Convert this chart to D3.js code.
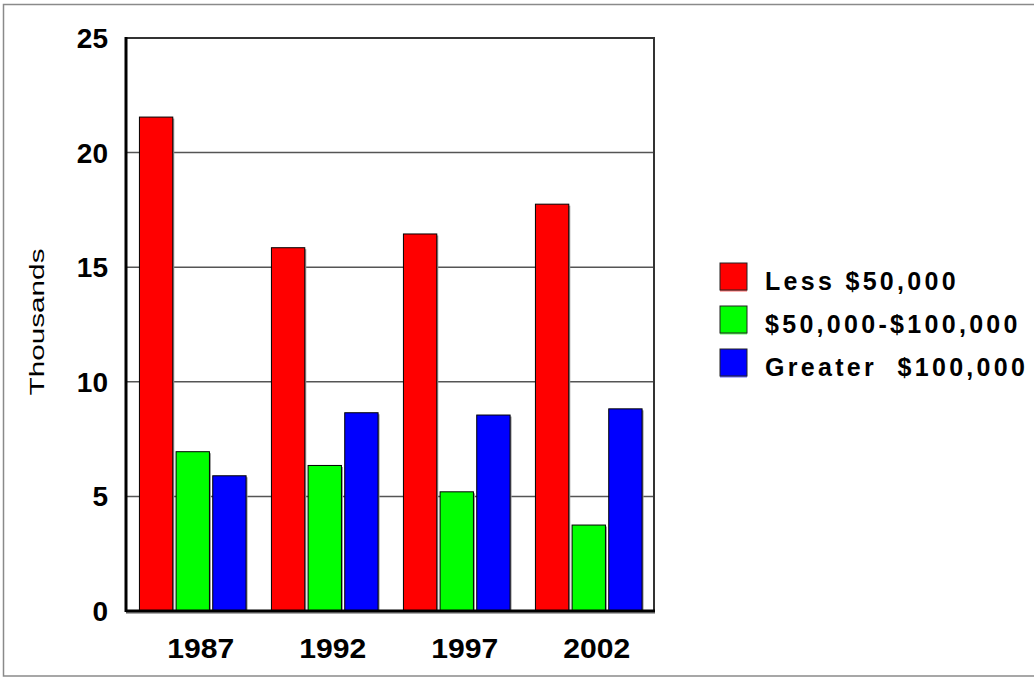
<!DOCTYPE html>
<html>
<head>
<meta charset="utf-8">
<script src="https://cdn.jsdelivr.net/npm/d3@7"></script>
<style>
    body { margin: 0; background: #fff; }
    svg { display: block; font-family: "Liberation Sans", Arial, sans-serif; }
</style>
</head>
<body>
<svg id="chart" width="1034" height="677"></svg>
<script>
const years = ['1987', '1992', '1997', '2002'];
const seriesNames = ['Less $50,000', '$50,000-$100,000', 'Greater  $100,000'];
const seriesColors = ['#ff0000', '#00ff00', '#0000ff'];
const lessThan50k = [21.55, 15.85, 16.45, 17.75];
const from50kTo100k = [6.95, 6.35, 5.2, 3.75];
const greaterThan100k = [5.9, 8.65, 8.55, 8.82];
const yTicks = [0, 5, 10, 15, 20, 25];

const seriesValues = [lessThan50k, from50kTo100k, greaterThan100k];

const svg = d3.select('#chart');

const plot = {left: 126, right: 654, top: 38, bottom: 611};

// outer frame
svg.append('rect')
    .attr('x', 3.5).attr('y', 4.5)
    .attr('width', 1040).attr('height', 671.5)
    .attr('fill', 'none')
    .attr('stroke', '#8a8a8a')
    .attr('stroke-width', 1.5);

const y = d3.scaleLinear()
    .domain([0, 25])
    .range([plot.bottom, plot.top]);

const x0 = d3.scaleBand()
    .domain(years)
    .range([plot.left, plot.right])
    .paddingInner(0.192)
    .paddingOuter(0.096)
    .align(0.53);

const x1 = d3.scaleBand()
    .domain(d3.range(seriesNames.length))
    .range([0, x0.bandwidth()])
    .paddingInner(0.09);

// gridlines
svg.append('g')
    .selectAll('line')
    .data(yTicks.filter(t => t > 0 && t < 25))
    .join('line')
    .attr('x1', plot.left)
    .attr('x2', plot.right)
    .attr('y1', d => y(d))
    .attr('y2', d => y(d))
    .attr('stroke', '#555')
    .attr('stroke-width', 1.5);

// top and right frame
svg.append('path')
    .attr('d', `M${plot.left},${plot.top} H${plot.right} V${plot.bottom}`)
    .attr('fill', 'none')
    .attr('stroke', '#333')
    .attr('stroke-width', 2);

// bars
const table = [];
years.forEach((year, i) => {
    seriesValues.forEach((vals, s) => {
        table.push({year: year, series: s, value: vals[i]});
    });
});

const bars = svg.append('g');

bars.selectAll('rect.shadow')
    .data(table)
    .join('rect')
    .classed('shadow', true)
    .attr('x', d => x0(d.year) + x1(d.series) + 1.5)
    .attr('y', d => y(d.value) + 1.5)
    .attr('width', x1.bandwidth())
    .attr('height', d => y(0) - y(d.value))
    .attr('fill', '#9a9a9a');

bars.selectAll('rect.bar')
    .data(table)
    .join('rect')
    .classed('bar', true)
    .attr('x', d => x0(d.year) + x1(d.series))
    .attr('y', d => y(d.value))
    .attr('width', x1.bandwidth())
    .attr('height', d => y(0) - y(d.value))
    .attr('fill', d => seriesColors[d.series])
    .attr('stroke', '#000')
    .attr('stroke-width', 1);

// axes lines
svg.append('line')
    .attr('x1', plot.left).attr('x2', plot.right + 1)
    .attr('y1', plot.bottom + 2).attr('y2', plot.bottom + 2)
    .attr('stroke', '#aaa').attr('stroke-width', 2);
svg.append('line')
    .attr('x1', plot.left).attr('x2', plot.right + 1)
    .attr('y1', plot.bottom).attr('y2', plot.bottom)
    .attr('stroke', '#000').attr('stroke-width', 3);
svg.append('line')
    .attr('x1', plot.left).attr('x2', plot.left)
    .attr('y1', plot.top - 1).attr('y2', plot.bottom + 1)
    .attr('stroke', '#000').attr('stroke-width', 3);

// y tick labels
svg.append('g')
    .selectAll('text')
    .data(yTicks)
    .join('text')
    .attr('x', 108)
    .attr('y', d => y(d))
    .attr('dy', '0.36em')
    .attr('text-anchor', 'end')
    .attr('font-size', 28)
    .attr('font-weight', 'bold')
    .text(d => d);

// x labels, drawn a little right of the group centre as in the original
svg.append('g')
    .selectAll('text')
    .data(years)
    .join('text')
    .attr('x', d => x0(d) + x0.bandwidth() / 2 + 8)
    .attr('y', 658)
    .attr('text-anchor', 'middle')
    .attr('font-size', 28)
    .attr('font-weight', 'bold')
    .attr('textLength', 67)
    .attr('lengthAdjust', 'spacingAndGlyphs')
    .text(d => d);

// y axis title
svg.append('text')
    .attr('transform', 'translate(44,322) rotate(-90)')
    .attr('text-anchor', 'middle')
    .attr('font-size', 21)
    .attr('textLength', 147)
    .attr('lengthAdjust', 'spacingAndGlyphs')
    .text('Thousands');

// legend
const legend = svg.append('g')
    .selectAll('g')
    .data(seriesNames)
    .join('g')
    .attr('transform', (d, i) => `translate(720,${263 + i * 43})`);

legend.append('rect')
    .attr('x', 0).attr('y', 1.5)
    .attr('width', 27).attr('height', 27)
    .attr('fill', (d, i) => seriesColors[i])
    .attr('opacity', 0.6);

legend.append('rect')
    .attr('width', 27).attr('height', 27)
    .attr('fill', (d, i) => seriesColors[i])
    .attr('stroke', '#222')
    .attr('stroke-width', 1);

legend.append('text')
    .attr('x', 45)
    .attr('y', 27)
    .attr('font-size', 25)
    .attr('font-weight', 'bold')
    .attr('letter-spacing', 3.3)
    .style('white-space', 'pre')
    .text(d => d);
</script>
</body>
</html>
